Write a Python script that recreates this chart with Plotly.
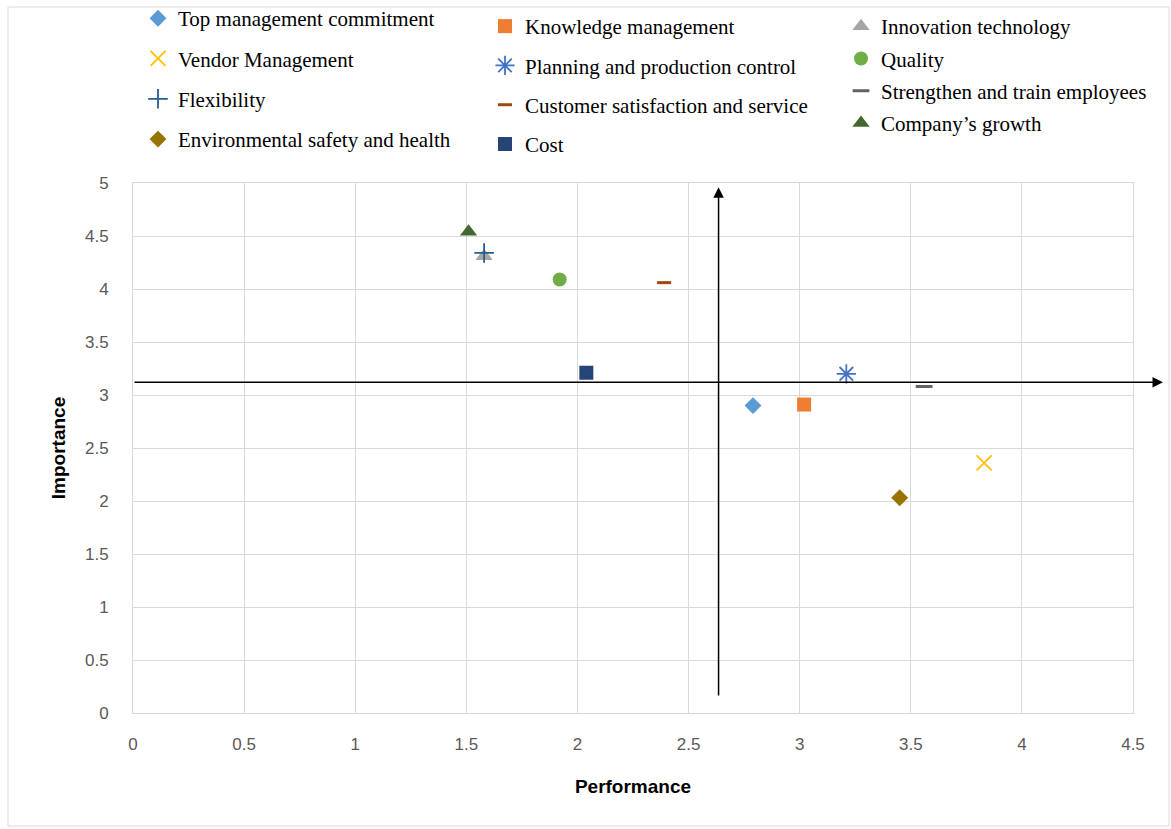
import plotly.graph_objects as go

# Factor names, grouped by the legend column they appear in
factors = [
    "Top management commitment", "Vendor Management", "Flexibility", "Environmental safety and health",
    "Knowledge management", "Planning and production control", "Customer satisfaction and service", "Cost",
    "Innovation technology", "Quality", "Strengthen and train employees", "Company\u2019s growth",
]
performance = [2.79, 3.83, 1.58, 3.45, 3.02, 3.21, 2.39, 2.04, 1.58, 1.92, 3.56, 1.51]
importance = [2.90, 2.36, 4.34, 2.03, 2.91, 3.20, 4.06, 3.21, 4.31, 4.09, 3.08, 4.54]

# Mean performance / importance where the quadrant arrows cross
mean_performance = 2.635
mean_importance = 3.12

X_MAX = 4.5
Y_MAX = 5.0

colors = ["#5B9BD5", "#FFC000", "#255E91", "#997300",
          "#ED7D31", "#4472C4", "#9E480E", "#264478",
          "#A5A5A5", "#70AD47", "#636363", "#43682B"]
symbols = ["diamond", "x-thin", "cross-thin", "diamond",
           "square", "asterisk", "line-ew", "square",
           "triangle-up", "circle", "line-ew", "triangle-up"]
sizes = [13, 15, 14, 13, 14, 16, 10, 14, 15, 14, 12, 15]
legend_ids = ["legend"] * 4 + ["legend2"] * 4 + ["legend3"] * 4

traces = []
for i in range(12):
    sym = symbols[i]
    open_line = sym in ("x-thin", "cross-thin", "asterisk", "line-ew")
    marker = dict(symbol=sym, size=sizes[i], color=colors[i])
    if open_line:
        marker["line"] = dict(color=colors[i], width=3 if sym == "line-ew" else 1.8)
    else:
        marker["line"] = dict(width=0)
    traces.append(go.Scatter(
        x=[performance[i]], y=[importance[i]], mode="markers",
        name=factors[i], marker=marker, legend=legend_ids[i],
        legendgroup=factors[i], legendrank=i + 1, showlegend=True,
    ))

# innovation technology sits under flexibility, so draw it first
draw_order = [8] + [k for k in range(12) if k != 8]
fig = go.Figure(data=[traces[k] for k in draw_order])

# quadrant arrows at the mean values
fig.add_annotation(x=mean_performance, y=4.96, ax=mean_performance, ay=0.15,
                   xref="x", yref="y", axref="x", ayref="y", text="",
                   showarrow=True, arrowhead=2, arrowsize=1.4, arrowwidth=1.5,
                   arrowcolor="#000000", standoff=0)
fig.add_annotation(x=4.635 / X_MAX, y=mean_importance, ax=0, ay=mean_importance,
                   xref="x domain", yref="y", axref="x domain", ayref="y", text="",
                   showarrow=True, arrowhead=2, arrowsize=1.4, arrowwidth=1.5,
                   arrowcolor="#000000", standoff=0)

# outer chart frame
fig.add_shape(type="rect", xref="paper", yref="paper",
              x0=(8 - 133) / 1000, x1=(1169 - 133) / 1000,
              y0=(713 - 826) / 530, y1=(713 - 7) / 530,
              line=dict(color="#D9D9D9", width=1), layer="below")

legend_font = dict(family="Liberation Serif", size=21, color="#000000")
common = dict(font=legend_font, bgcolor="rgba(0,0,0,0)", orientation="v",
              xanchor="left", yanchor="top", itemclick=False)
fig.update_layout(
    width=1171, height=829,
    margin=dict(l=133, r=38, t=183, b=116, autoexpand=False),
    paper_bgcolor="#FFFFFF", plot_bgcolor="#FFFFFF",
    legend=dict(x=0.005, y=1.349, tracegroupgap=10, **common),
    legend2=dict(x=0.352, y=1.334, tracegroupgap=9, **common),
    legend3=dict(x=0.708, y=1.334, tracegroupgap=2, **common),
    xaxis=dict(range=[0, X_MAX], dtick=0.5, tick0=0, showgrid=True, gridcolor="#D9D9D9",
               zeroline=False, showline=True, linecolor="#D9D9D9", mirror=True,
               ticks="", ticklabelstandoff=16,
               tickfont=dict(family="Liberation Sans", size=17, color="#595959"),
               title=dict(text="<b>Performance</b>", standoff=26,
                          font=dict(family="Liberation Sans", size=19, color="#000000"))),
    yaxis=dict(range=[0, Y_MAX], dtick=0.5, tick0=0, showgrid=True, gridcolor="#D9D9D9",
               zeroline=False, showline=True, linecolor="#D9D9D9", mirror=True,
               ticks="", ticklabelstandoff=20,
               tickfont=dict(family="Liberation Sans", size=17, color="#595959"),
               title=dict(text="<b>Importance</b>", standoff=14,
                          font=dict(family="Liberation Sans", size=19, color="#000000"))),
)

fig.write_html("out.html")
